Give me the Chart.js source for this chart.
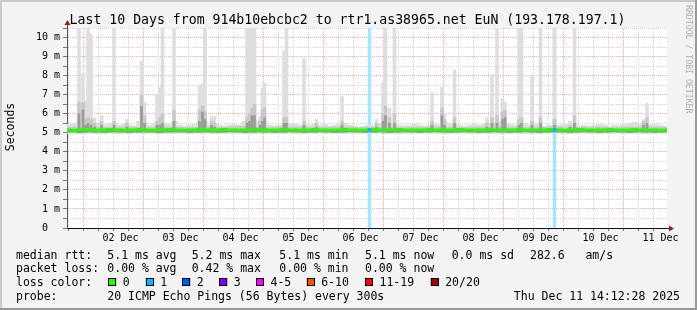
<!DOCTYPE html>
<html><head><meta charset="utf-8">
<script src="https://cdn.jsdelivr.net/npm/chart.js@4/dist/chart.umd.min.js"></script>
<style>html,body{margin:0;padding:0;background:#f3f3f3;}canvas{display:block;}</style>
</head><body>
<canvas id="c" width="697" height="310"></canvas>
<script>
// ---------- data (x values are hours since 01 Dec 00:00) ----------
const titleText = 'Last 10 Days from 914b10ebcbc2 to rtr1.as38965.net EuN (193.178.197.1)';
const yAxisTitle = 'Seconds';
const watermark = 'RRDTOOL / TOBI OETIKER';
const xStart = 14.6, xEnd = 254.6;
const dayTickHours  = [36, 60, 84, 108, 132, 156, 180, 204, 228, 252];
const dayTickLabels = ['02 Dec','03 Dec','04 Dec','05 Dec','06 Dec','07 Dec','08 Dec','09 Dec','10 Dec','11 Dec'];
const yMajorTicks = [0,1,2,3,4,5,6,7,8,9,10];
const yTickLabels = ['0  ','1 m','2 m','3 m','4 m','5 m','6 m','7 m','8 m','9 m','10 m'];
const yMinorTicks = [0.5,1.5,2.5,3.5,4.5,5.5,6.5,7.5,8.5,9.5,10.5];

// smoke band (2-hour columns), ms
const baseLow = 4.97;
const baseTop = [
 5.45,5.5,5.6,5.55,5.5,5.45,5.5,5.4,5.45,5.5,
 5.4,5.45,5.4,5.35,5.6,5.55,5.4,5.5,5.45,5.5,
 5.45,5.6,5.4,5.35,5.4,5.45,5.55,5.6,5.4,5.45,
 5.4,5.35,5.4,5.45,5.4,5.6,5.65,5.6,5.5,5.6,
 5.4,5.35,5.4,5.45,5.5,5.45,5.4,5.35,5.4,5.45,
 5.4,5.45,5.35,5.4,5.45,5.5,5.4,5.35,5.3,5.35,
 5.4,5.35,5.5,5.6,5.5,5.45,5.4,5.35,5.4,5.45,
 5.4,5.35,5.4,5.45,5.4,5.55,5.5,5.45,5.4,5.35,
 5.4,5.45,5.4,5.45,5.5,5.55,5.6,5.5,5.45,5.4,
 5.45,5.5,5.4,5.45,5.4,5.35,5.4,5.35,5.4,5.45,
 5.4,5.45,5.35,5.4,5.35,5.4,5.45,5.4,5.35,5.4,
 5.4,5.45,5.5,5.55,5.45,5.5,5.4,5.45,5.4,5.35];
// inner smoke band (6-hour columns)
const midLow = 5.02;
const baseMid = [5.3,5.32,5.28,5.3,5.3,5.28,5.32,5.3,5.28,5.3,5.3,5.34,5.3,5.28,5.3,5.3,5.28,5.3,5.3,5.28,
 5.32,5.3,5.28,5.3,5.3,5.3,5.28,5.3,5.32,5.3,5.28,5.3,5.3,5.28,5.3,5.3,5.28,5.3,5.32,5.3];
// median rtt (2-hour columns)
const median = [
 5.15,5.15,5.12,5.15,5.17,5.15,5.15,5.13,5.15,5.17,
 5.15,5.15,5.13,5.15,5.15,5.17,5.15,5.15,5.13,5.15,
 5.15,5.17,5.15,5.15,5.13,5.15,5.15,5.17,5.15,5.15,
 5.13,5.15,5.17,5.15,5.15,5.13,5.15,5.15,5.17,5.15,
 5.15,5.13,5.15,5.15,5.17,5.15,5.15,5.13,5.15,5.15,
 5.17,5.15,5.15,5.13,5.15,5.15,5.17,5.15,5.15,5.13,
 5.15,5.15,5.17,5.15,5.13,5.15,5.15,5.17,5.15,5.15,
 5.13,5.15,5.15,5.17,5.15,5.15,5.13,5.15,5.15,5.17,
 5.15,5.15,5.13,5.15,5.15,5.17,5.15,5.15,5.13,5.15,
 5.15,5.17,5.15,5.15,5.13,5.15,5.15,5.17,5.15,5.15,
 5.13,5.15,5.15,5.17,5.15,5.15,5.13,5.15,5.15,5.17,
 5.15,5.15,5.13,5.15,5.17,5.15,5.15,5.13,5.15,5.15];
// latency spikes
const spikeHours = [19.4,21.0,22.0,23.0,24.2,25.6,28.4,33.4,38.6,44.4,45.6,50.6,51.8,52.8,57.4,67.6,68.8,69.8,72.4,73.6,
 86.6,87.6,88.6,89.6,91.8,92.8,93.6,101.4,102.4,109.4,114.4,124.6,138.4,141.0,142.0,143.6,145.6,160.6,164.6,165.6,
 169.6,182.6,184.6,186.6,188.8,189.8,195.4,196.4,200.6,204.0,209.6,215.8,217.6,245.2,246.6];
const spikeTop   = [11,8.1,6.7,11,10.2,5.8,5.9,11,5.7,8.75,6.6,7.0,7.4,11,11,7.45,7.6,11,5.85,5.85,
 11,11,11,11,5.85,7.35,7.6,9.3,11,8.9,5.7,6.9,5.7,7.6,11,6.3,11,7.1,7.4,6.0,
 8.3,5.8,8.05,11,6.8,6.6,11,11,8.0,11,11,5.6,11,5.7,6.55];
const spikeMid   = [6.6,6.6,5.7,5.8,5.7,5.5,5.6,5.6,5.5,7.0,5.9,5.6,5.8,6.0,6.2,6.2,6.4,6.1,5.6,5.5,
 5.8,6.0,6.3,6.5,5.6,6.2,6.3,5.8,5.8,5.6,5.5,5.6,5.5,6.0,6.4,5.8,6.0,5.6,6.3,5.7,
 5.8,5.5,5.8,5.9,6.1,6.2,5.7,5.8,5.6,5.8,5.7,5.4,5.9,5.6,5.8];
const spikeDark  = [6.0,6.2,5.4,5.5,5.4,5.3,5.4,5.4,5.3,6.4,5.5,5.4,5.4,5.5,5.6,5.6,6.1,5.7,5.4,5.3,
 5.5,5.6,5.9,5.9,5.4,5.6,5.8,5.5,5.5,5.4,5.3,5.4,5.3,5.6,5.9,5.5,5.5,5.4,5.9,5.4,
 5.5,5.3,5.5,5.5,5.7,5.8,5.4,5.5,5.4,5.5,5.4,5.3,5.5,5.4,5.5];
// packet loss events (lost pings of 20)
const lossHours = [135.6, 209.6];
const lossCount = [1, 1];
const lossMedian = [5.15, 5.15];

// legend texts
const rttLabel = 'median rtt:';
const rttStats = ['5.1 ms avg','5.2 ms max','5.1 ms min','5.1 ms now','0.0 ms sd','282.6   am/s'];
const lossLabel = 'packet loss:';
const lossStats = ['0.00 % avg','0.42 % max','0.00 % min','0.00 % now'];
const lossColorLabel = 'loss color:';
const lossLabels = ['0','1','2','3','4-5','6-10','11-19','20/20'];
const lossColors = ['#26ff00','#00b8ff','#0059ff','#7e00ff','#ff00ff','#ff5500','#ff0000','#a10000'];
const probeLabel = 'probe:';
const probeText = '20 ICMP Echo Pings (56 Bytes) every 300s';
const dateText = 'Thu Dec 11 14:12:28 2025';

// ---------- chart ----------
const MONO = '"DejaVu Sans Mono", monospace';
const STEP = 2, MIDSTEP = 6;
const yMax = 10.5;

const chrome = {
  id: 'chrome',
  beforeDraw(chart) {
    const {ctx, chartArea: a, width: W, height: H} = chart;
    ctx.save();
    ctx.fillStyle = '#f3f3f3'; ctx.fillRect(0, 0, W, H);
    ctx.fillStyle = '#cbcbcb'; ctx.fillRect(0, 0, W, 2); ctx.fillRect(0, 0, 2, H);
    ctx.fillStyle = '#999999'; ctx.fillRect(0, H - 2, W, 2); ctx.fillRect(W - 2, 0, 2, H);
    ctx.fillStyle = '#ffffff'; ctx.fillRect(a.left, a.top, a.right - a.left, a.bottom - a.top);
    ctx.restore();
  },
  afterDraw(chart) {
    const {ctx, chartArea: a} = chart;
    ctx.save();
    // axis extensions + arrows
    ctx.strokeStyle = '#555'; ctx.lineWidth = 1;
    ctx.beginPath(); ctx.moveTo(a.left + 0.5, a.top); ctx.lineTo(a.left + 0.5, a.top - 4); ctx.stroke();
    ctx.strokeStyle = '#111';
    ctx.beginPath(); ctx.moveTo(a.right, a.bottom + 0.5); ctx.lineTo(a.right + 3, a.bottom + 0.5); ctx.stroke();
    ctx.fillStyle = '#9b1c1c';
    ctx.beginPath(); ctx.moveTo(a.left + 0.5, a.top - 8); ctx.lineTo(a.left - 2.5, a.top - 3); ctx.lineTo(a.left + 3.5, a.top - 3); ctx.closePath(); ctx.fill();
    ctx.beginPath(); ctx.moveTo(a.right + 7, a.bottom + 0.5); ctx.lineTo(a.right + 2, a.bottom - 2.5); ctx.lineTo(a.right + 2, a.bottom + 3.5); ctx.closePath(); ctx.fill();

    // title
    ctx.fillStyle = '#000';
    ctx.font = '13.2px ' + MONO; ctx.textAlign = 'center'; ctx.textBaseline = 'alphabetic';
    ctx.fillText(titleText, 347.5, 24);

    // y axis title
    ctx.save();
    ctx.translate(14, (a.top + a.bottom) / 2 - 1);
    ctx.rotate(-Math.PI / 2);
    ctx.font = '11.5px ' + MONO; ctx.textAlign = 'center'; ctx.textBaseline = 'alphabetic';
    ctx.fillText(yAxisTitle, 0, 0);
    ctx.restore();

    // watermark
    ctx.save();
    ctx.translate(686, 5);
    ctx.rotate(Math.PI / 2);
    ctx.font = '8.2px ' + MONO; ctx.fillStyle = '#b0b0b0'; ctx.textAlign = 'left'; ctx.textBaseline = 'alphabetic';
    ctx.fillText(watermark, 0, 0);
    ctx.restore();

    // legend
    ctx.font = '11.5px ' + MONO; ctx.textAlign = 'left'; ctx.textBaseline = 'alphabetic'; ctx.fillStyle = '#000';
    const rowY = [258.5, 272, 286, 299.5];
    const statX = [107.3, 191.7, 279.3, 365, 451.7, 530];
    const boxX = [108.3, 145.7, 182.3, 219.3, 256, 306.7, 365, 430.7];
    ctx.fillText(rttLabel, 16, rowY[0]);
    rttStats.forEach((t, i) => ctx.fillText(t, statX[i], rowY[0]));
    ctx.fillText(lossLabel, 16, rowY[1]);
    lossStats.forEach((t, i) => ctx.fillText(t, statX[i], rowY[1]));
    ctx.fillText(lossColorLabel, 16, rowY[2]);
    lossLabels.forEach((t, i) => {
      ctx.fillStyle = lossColors[i];
      ctx.fillRect(boxX[i], rowY[2] - 8, 8, 8);
      ctx.strokeStyle = '#000'; ctx.lineWidth = 1;
      ctx.strokeRect(Math.round(boxX[i]) + 0.5, Math.round(rowY[2] - 8) + 0.5, 7, 7);
      ctx.fillStyle = '#000';
      ctx.fillText(t, boxX[i] + 14.5, rowY[2]);
    });
    ctx.fillText(probeLabel, 16, rowY[3]);
    ctx.fillText(probeText, 107.3, rowY[3]);
    ctx.textAlign = 'right';
    ctx.fillText(dateText, 680, rowY[3]);
    ctx.restore();
  }
};

const LIGHT = '#dedede', MID = '#c8c8c8', DARK = '#9a9a9a';
const barDs = (label, data, color, thickness, order) => ({
  type: 'bar', label, data, backgroundColor: color, barThickness: thickness,
  stack: 's', order, borderWidth: 0, inflateAmount: 0.3
});

const datasets = [
  barDs('loss', lossHours.map((h, i) => ({x: h, y: [0, yMax], n: lossCount[i]})), '#a8e4ff', 3, 10),
  barDs('smoke light', baseTop.map((v, i) => ({x: xStart + STEP * i + STEP / 2, y: [baseLow, v]})), LIGHT, 6, 9),
  barDs('spike light', spikeHours.map((h, i) => ({x: h, y: [baseLow, spikeTop[i]]})), LIGHT, 3, 8),
  barDs('smoke mid', baseMid.map((v, i) => ({x: xStart + MIDSTEP * i + MIDSTEP / 2, y: [midLow, v]})), MID, 16, 7),
  barDs('spike mid', spikeHours.map((h, i) => ({x: h, y: [midLow, spikeMid[i]]})), MID, 3, 6),
  barDs('spike dark', spikeHours.map((h, i) => ({x: h, y: [midLow + 0.03, spikeDark[i]]})), DARK, 2, 5),
  barDs('smoke dark', median.map((v, i) => ({x: xStart + STEP * i + STEP / 2, y: [v - 0.11, v]})), '#8a8a8a', 6, 4),
  {
    type: 'line', label: 'median',
    data: median.map((v, i) => ({x: xStart + STEP * i, y: v})).concat([{x: xEnd, y: median[median.length - 1]}]),
    borderColor: '#26ff00', borderWidth: 3, pointRadius: 0, stepped: 'after', order: 2, fill: false
  },
  barDs('loss median', lossHours.map((h, i) => ({x: h, y: [lossMedian[i] - 0.08, lossMedian[i] + 0.08]})), lossColors[1], 3, 1)
];

new Chart(document.getElementById('c'), {
  type: 'bar',
  data: { datasets },
  options: {
    responsive: false, animation: false, events: [],
    layout: { padding: { top: 28, right: 30, left: 0, bottom: 0 } },
    plugins: { legend: { display: false }, tooltip: { enabled: false } },
    scales: {
      x: {
        type: 'linear', min: xStart, max: xEnd, offset: false,
        afterBuildTicks(s) { const t = []; for (let h = 18; h <= 252; h += 6) t.push({value: h}); s.ticks = t; },
        afterFit(s) { s.height = 82; },
        ticks: {
          autoSkip: false, maxRotation: 0, minRotation: 0, padding: 1, color: '#000',
          font: { family: MONO, size: 10 },
          callback(v) { const i = dayTickHours.indexOf(v); return i >= 0 ? dayTickLabels[i] : ''; }
        },
        grid: {
          color(c) { return c.tick && c.tick.value % 24 === 0 ? '#f3acac' : '#d4d4d4'; },
          lineWidth: 1, tickLength: 3, tickColor: '#777'
        },
        border: { display: true, color: '#111', width: 1, dash: [1, 1] }
      },
      y: {
        type: 'linear', min: 0, max: yMax, stacked: false,
        afterBuildTicks(s) { s.ticks = yMajorTicks.concat(yMinorTicks).sort((a, b) => a - b).map(v => ({value: v})); },
        afterFit(s) { s.width = 67; },
        ticks: {
          autoSkip: false, padding: 3, color: '#000', font: { family: MONO, size: 10 },
          callback(v) { const i = yMajorTicks.indexOf(v); return i >= 0 ? yTickLabels[i] : ''; }
        },
        grid: {
          color(c) { return c.tick && Number.isInteger(c.tick.value) ? '#f3acac' : '#d4d4d4'; },
          lineWidth: 1, tickLength: 4, tickColor: '#777'
        },
        border: { display: true, color: '#555', width: 1, dash: [1, 1] }
      }
    }
  },
  plugins: [chrome]
});
</script>
</body></html>
